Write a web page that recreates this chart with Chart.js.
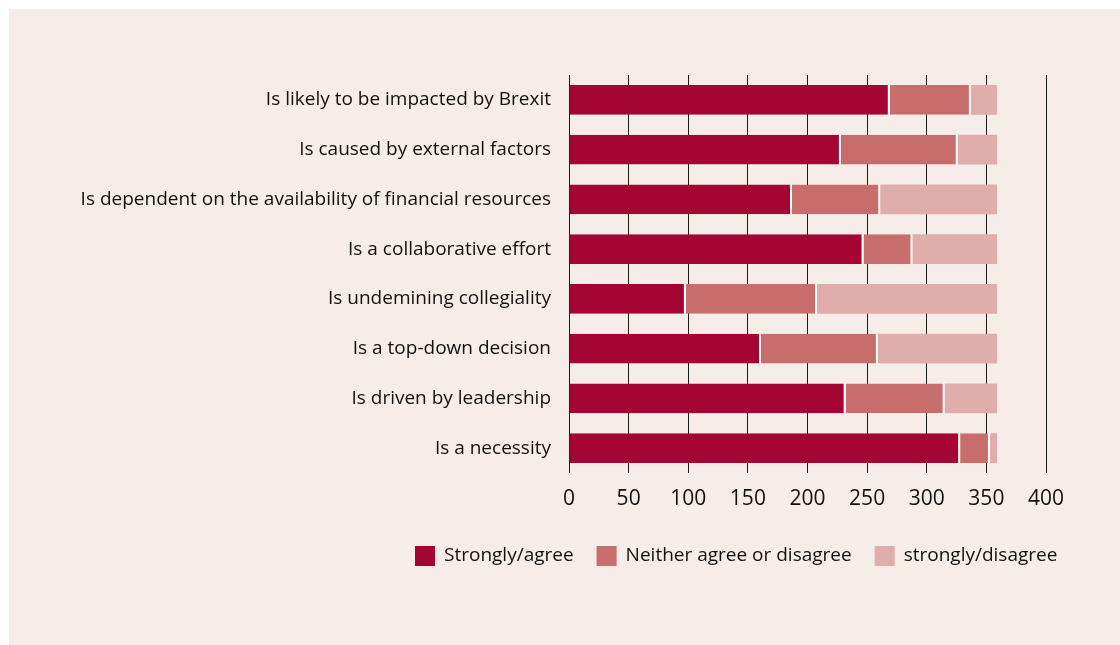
<!DOCTYPE html>
<html>
<head>
<meta charset="utf-8">
<script src="https://cdn.jsdelivr.net/npm/chart.js@4/dist/chart.umd.min.js"></script>
<style>
  html, body { margin: 0; padding: 0; background: #ffffff; }
  #panel { position: absolute; left: 9px; top: 9px; width: 1111px; height: 636px; background: #f6ece8; }
  #wrap { position: absolute; left: 0; top: 0; width: 1120px; height: 645px; }
</style>
</head>
<body>
<div id="panel"></div>
<div id="wrap"><canvas id="c" width="1120" height="645"></canvas></div>
<script>
const categories = [
  "Is likely to be impacted by Brexit",
  "Is caused by external factors",
  "Is dependent on the availability of financial resources",
  "Is a collaborative effort",
  "Is undemining collegiality",
  "Is a top-down decision",
  "Is driven by leadership",
  "Is a necessity"
];
const stronglyAgree   = [269, 228, 187, 247,  98, 161, 232, 328];
const neither         = [ 68,  98,  74,  41, 110,  98,  83,  25];
const stronglyDisagree= [ 22,  33,  98,  71, 151, 100,  44,   6];
const seriesNames = ["Strongly/agree", "Neither agree or disagree", "strongly/disagree"];
const xTicks = [0, 50, 100, 150, 200, 250, 300, 350, 400];

const colors = ["#a50532", "#c76d6b", "#e0aeaa"];
const FONT = "'Open Sans', 'Noto Sans', sans-serif";
const TEXT = "#111111";

const legendPlugin = {
  id: 'customLegend',
  afterDraw(chart) {
    const ctx = chart.ctx;
    ctx.save();
    ctx.font = "19px " + FONT;
    ctx.textBaseline = "middle";
    ctx.textAlign = "left";
    let x = 415;
    const y = 546;
    chart.data.datasets.forEach((ds, i) => {
      ctx.fillStyle = ds.backgroundColor;
      ctx.fillRect(x, y, 20, 20);
      x += 29;
      ctx.fillStyle = TEXT;
      ctx.fillText(ds.label, x, y + 10);
      x += ctx.measureText(ds.label).width + 23;
    });
    ctx.restore();
  }
};

new Chart(document.getElementById('c'), {
  type: 'bar',
  data: {
    labels: categories,
    datasets: [
      { label: seriesNames[0], data: stronglyAgree, backgroundColor: colors[0],
        borderColor: '#ffffff', borderWidth: {left: 0, top: 0, bottom: 0, right: 2}, borderSkipped: false },
      { label: seriesNames[1], data: neither, backgroundColor: colors[1],
        borderColor: '#ffffff', borderWidth: {left: 0, top: 0, bottom: 0, right: 2}, borderSkipped: false },
      { label: seriesNames[2], data: stronglyDisagree, backgroundColor: colors[2], borderWidth: 0 }
    ]
  },
  options: {
    indexAxis: 'y',
    responsive: false,
    animation: false,
    devicePixelRatio: 1,
    barPercentage: 0.6,
    categoryPercentage: 1.0,
    layout: { padding: { top: 75, left: 10, right: 74, bottom: 0 } },
    plugins: {
      legend: { display: false },
      tooltip: { enabled: false }
    },
    scales: {
      x: {
        stacked: true,
        min: 0, max: 400,
        afterBuildTicks(scale) { scale.ticks = xTicks.map(v => ({ value: v })); },
        afterFit(scale) { scale.height = 645 - 473; },
        border: { display: false },
        grid: { color: '#1a1a1a', lineWidth: 1, drawTicks: false },
        ticks: { color: TEXT, font: { family: FONT, size: 21 }, padding: 13 }
      },
      y: {
        stacked: true,
        afterFit(scale) { scale.width = 569 - 10; },
        border: { display: false },
        grid: { display: false, drawTicks: false },
        ticks: { color: TEXT, font: { family: FONT, size: 19 }, padding: 18 }
      }
    }
  },
  plugins: [legendPlugin]
});
</script>
</body>
</html>
